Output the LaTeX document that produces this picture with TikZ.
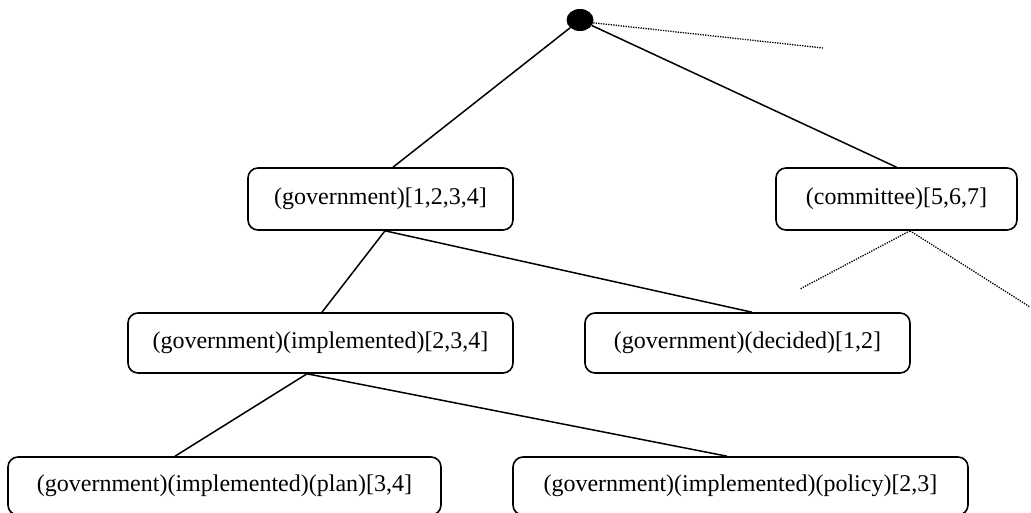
\documentclass[tikz,border=0pt]{standalone}
\usepackage{fontspec}
\setmainfont{Liberation Serif}
\usetikzlibrary{shapes.geometric}
\begin{document}
\begin{tikzpicture}[x=1pt,y=-1pt,
  box/.style={draw, line width=1.6pt, rounded corners=10pt, inner sep=0pt,
    font=\fontsize{24}{28}\selectfont},
  edge/.style={line width=1.5pt},
  faint/.style={line width=1.3pt, dash pattern=on 1.3pt off 1.2pt}]
\clip (0,0) rectangle (1031,512);
\fill[white] (0,0) rectangle (1031,512);

% root of the tree
\node[ellipse, fill=black, minimum width=27pt, minimum height=22pt, inner sep=0pt] (root) at (580,20) {};

% first level
\node[box, minimum width=265pt, minimum height=62pt] (gov) at (380.5,199) {(government)[1,2,3,4]};
\node[box, minimum width=241pt, minimum height=62pt] (com) at (896.5,199) {(committee)[5,6,7]};

% second level
\node[box, minimum width=385pt, minimum height=60pt] (impl) at (320.5,343) {(government)(implemented)[2,3,4]};
\node[box, minimum width=325pt, minimum height=60pt] (dec) at (747.5,343) {(government)(decided)[1,2]};

% third level
\node[box, minimum width=433pt, minimum height=58pt] (plan) at (224.5,486) {(government)(implemented)(plan)[3,4]};
\node[box, minimum width=455pt, minimum height=58pt] (pol) at (740.5,486) {(government)(implemented)(policy)[2,3]};

% loose ends of the elided branches
\coordinate (rootmore) at (823,48);
\coordinate (comleft) at (800,289);
\coordinate (comright) at (1030,307);

% connectors
\draw[edge] (root) -- ([xshift=12.5pt]gov.north);
\draw[edge] (root) -- (com.north);
\draw[faint] (root.-12) -- (rootmore);

\draw[edge] ([xshift=4.5pt]gov.south) -- ([xshift=1.5pt]impl.north);
\draw[edge] ([xshift=4.5pt]gov.south) -- ([xshift=4.5pt]dec.north);

\draw[faint] ([xshift=13.5pt]com.south) -- (comleft);
\draw[faint] ([xshift=13.5pt]com.south) -- (comright);

\draw[edge] ([xshift=-13.5pt]impl.south) -- ([xshift=-49.5pt]plan.north);
\draw[edge] ([xshift=-13.5pt]impl.south) -- ([xshift=-13.5pt]pol.north);
\end{tikzpicture}
\end{document}
